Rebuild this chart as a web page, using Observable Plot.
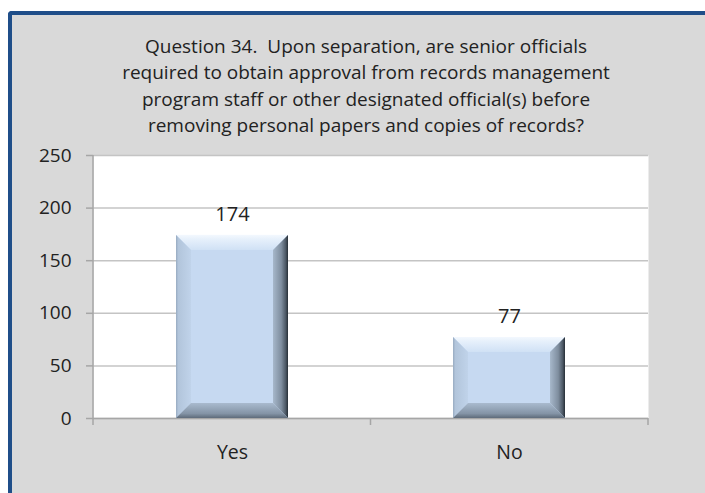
<!DOCTYPE html>
<html>
<head>
<meta charset="utf-8">
<script src="https://cdn.jsdelivr.net/npm/d3@7"></script>
<script src="https://cdn.jsdelivr.net/npm/@observablehq/plot@0.6"></script>
<style>
  html, body { margin: 0; padding: 0; background: #ffffff; width: 705px; height: 493px; overflow: hidden; }
  #frame { position: absolute; left: 8px; top: 11px; width: 720px; height: 500px;
    background: #d9d9d9; border-top: 4px solid #1f4e89; border-left: 4px solid #1f4e89;
    border-top-left-radius: 4px; box-sizing: border-box; }
  #title { position: absolute; left: 0; top: 33px; width: 732px; text-align: center;
    font-family: "Open Sans", sans-serif; font-size: 19px; line-height: 26.3px; color: #222; }
  #chart { position: absolute; left: 0; top: 140px; }
</style>
</head>
<body>
<div id="frame"></div>
<div id="title">Question 34.&nbsp; Upon separation, are senior officials<br>required to obtain approval from records management<br>program staff or other designated official(s) before<br>removing personal papers and copies of records?</div>
<div id="chart"></div>
<script>
const categories = ["Yes", "No"];
const values = [174, 77];
const yTicks = [0, 50, 100, 150, 200, 250];

const data = categories.map((c, i) => ({category: c, value: values[i]}));

const plot = Plot.plot({
  width: 705,
  height: 340,
  marginTop: 15,
  marginBottom: 62,
  marginLeft: 93,
  marginRight: 57,
  style: {background: "transparent", fontFamily: "Open Sans, sans-serif", color: "#222"},
  x: {domain: categories, paddingInner: 0.596, paddingOuter: 0.298, label: null},
  y: {domain: [0, 250], ticks: yTicks, label: null},
  marks: [
    Plot.frame({fill: "white", stroke: null}),
    Plot.gridY(yTicks, {stroke: "#c4c4c4", strokeOpacity: 1, strokeWidth: 1.5}),
    Plot.ruleY([0], {stroke: "#a6a6a6", strokeWidth: 1.5}),
    Plot.axisY(yTicks, {tickSize: 7, tickPadding: 15, fontSize: 19, stroke: "#a6a6a6", strokeWidth: 1.5, fill: "#222", label: null}),
    Plot.axisX({tickSize: 0, tickPadding: 27, fontSize: 19.5, fill: "#222", label: null}),
    Plot.barY(data, {x: "category", y: "value", fill: "#c6d9f1", className: "bevel-bars"}),
    Plot.text(data, {x: "category", y: "value", text: d => String(d.value), dy: -21, fontSize: 20, fill: "#222"})
  ]
});

// Bevel decoration, left axis line and category boundary ticks, from the plot's own scales
(function decorate() {
  const sx = plot.scale("x"), sy = plot.scale("y");
  const svg = d3.select(plot);
  const bw = sx.bandwidth, step = sx.step;
  const defs = svg.insert("defs", ":first-child");
  const grad = (id, x1, y1, x2, y2, stops) => {
    const lg = defs.append("linearGradient").attr("id", id)
      .attr("x1", x1).attr("y1", y1).attr("x2", x2).attr("y2", y2);
    stops.forEach(([o, c]) => lg.append("stop").attr("offset", o).attr("stop-color", c));
  };
  grad("bvTop", 0, 0, 0, 1, [[0, "#f3f8fe"], [0.3, "#e6f0fb"], [1, "#d0e1f5"]]);
  grad("bvLeft", 0, 0, 1, 0, [[0, "#98abc1"], [0.15, "#b2c5db"], [1, "#c0d3ea"]]);
  grad("bvRight", 0, 0, 1, 0, [[0, "#a7b8cb"], [0.55, "#7f8e9f"], [0.85, "#4c5865"], [1, "#262e36"]]);
  grad("bvBottom", 0, 0, 0, 1, [[0, "#a9bace"], [0.7, "#8494a6"], [1, "#5e6b7a"]]);
  const barsG = svg.select("g.bevel-bars");
  const layer = svg.append("g");
  const axes = svg.append("g");
  const b = 15;
  const pts = a => a.map(p => p.join(",")).join(" ");
  const y0 = sy.apply(0);
  const [r0, r1] = sx.range;
  const [yr0, yr1] = sy.range;
  // left axis line
  axes.append("line").attr("x1", r0).attr("x2", r0).attr("y1", Math.min(yr0, yr1)).attr("y2", Math.max(yr0, yr1))
    .attr("stroke", "#a6a6a6").attr("stroke-width", 1.5);
  // boundary ticks
  const gap = (step - bw) / 2;
  const bounds = [r0, ...categories.slice(1).map(c => sx.apply(c) - gap), r1];
  bounds.forEach(px => axes.append("line").attr("x1", px).attr("x2", px)
    .attr("y1", y0).attr("y2", y0 + 7).attr("stroke", "#a6a6a6").attr("stroke-width", 1.5));
  data.forEach(d => {
    const xl = sx.apply(d.category), xr = xl + bw;
    const yt = sy.apply(d.value), yb = y0;
    layer.append("polygon").attr("points", pts([[xl, yt], [xr, yt], [xr - b, yt + b], [xl + b, yt + b]])).attr("fill", "url(#bvTop)");
    layer.append("polygon").attr("points", pts([[xl, yt], [xl + b, yt + b], [xl + b, yb - b], [xl, yb]])).attr("fill", "url(#bvLeft)");
    layer.append("polygon").attr("points", pts([[xr, yt], [xr, yb], [xr - b, yb - b], [xr - b, yt + b]])).attr("fill", "url(#bvRight)");
    layer.append("polygon").attr("points", pts([[xl, yb], [xr, yb], [xr - b, yb - b], [xl + b, yb - b]])).attr("fill", "url(#bvBottom)");
  });
  barsG.node().after(layer.node());
})();

document.getElementById("chart").appendChild(plot);
</script>
</body>
</html>
